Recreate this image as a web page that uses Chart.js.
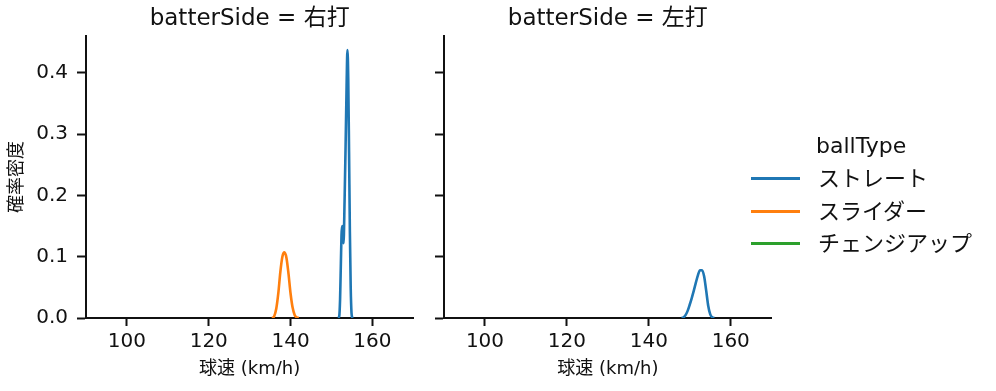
<!DOCTYPE html>
<html><head><meta charset="utf-8">
<script src="https://cdn.jsdelivr.net/npm/chart.js@4"></script>
<style>
body{margin:0;background:#fff;width:996px;height:391px;overflow:hidden;position:relative;font-family:"DejaVu Sans","Noto Sans CJK JP",sans-serif;}
canvas{position:absolute;top:0;}
#c1{left:0;}
#c2{left:425px;}
#legend{position:absolute;left:751px;top:0;width:245px;height:391px;color:#111;font-size:22px;}
#legend .ttl{position:absolute;left:65px;top:132px;line-height:28px;white-space:nowrap;}
#legend .it{position:absolute;left:0;height:32px;width:245px;}
#legend .sw{position:absolute;left:0;top:14px;width:49px;height:3px;}
#legend .lb{position:absolute;left:67px;top:0;line-height:32px;white-space:nowrap;}
</style></head><body>
<canvas id="c1" width="425" height="391"></canvas>
<canvas id="c2" width="355" height="391"></canvas>
<div id="legend"></div>
<script>
// ---- data ----
const ballTypes = ['ストレート', 'スライダー', 'チェンジアップ'];
const typeColors = ['#1f77b4', '#ff7f0e', '#2ca02c'];
const panels = ['右打', '左打'];
const xTicks = [100, 120, 140, 160];
const yTicks = [0.0, 0.1, 0.2, 0.3, 0.4];

// 右打 ストレート
const rStraightX = [151.6, 151.9, 152.1, 152.3, 152.45, 152.6, 152.75, 152.95, 153.2, 153.45, 153.7, 153.9, 154.1, 154.3, 154.5, 154.7, 154.9, 155.1];
const rStraightY = [0, 0.003, 0.03, 0.09, 0.135, 0.150, 0.140, 0.122, 0.19, 0.28, 0.38, 0.437, 0.39, 0.27, 0.14, 0.05, 0.008, 0];
// 右打 スライダー
const rSliderX = [135.5, 136.0, 136.5, 137.0, 137.5, 138.0, 138.5, 139.0, 139.5, 140.0, 140.5, 141.0, 141.5, 142.0];
const rSliderY = [0, 0.003, 0.015, 0.04, 0.075, 0.100, 0.107, 0.098, 0.072, 0.040, 0.017, 0.005, 0.001, 0];
// 左打 ストレート
const lStraightX = [148.0, 148.5, 149.0, 149.5, 150.0, 150.5, 151.0, 151.5, 152.0, 152.5, 153.0, 153.5, 154.0, 154.5, 155.0, 155.5, 156.0];
const lStraightY = [0, 0.001, 0.005, 0.012, 0.022, 0.033, 0.045, 0.058, 0.070, 0.078, 0.078, 0.068, 0.045, 0.020, 0.006, 0.001, 0];
// チェンジアップ: no visible density in either panel
const emptyX = [];
const emptyY = [];

const pts = (xs, ys) => xs.map((x, i) => ({x: x, y: ys[i]}));
const panelData = [
  [pts(rStraightX, rStraightY), pts(rSliderX, rSliderY), pts(emptyX, emptyY)],
  [pts(lStraightX, lStraightY), pts(emptyX, emptyY), pts(emptyX, emptyY)]
];

const FONT = '"DejaVu Sans", "Noto Sans CJK JP", sans-serif';
const INK = '#111';

function makeChart(id, pi, isLeft) {
  const ds = ballTypes.map((name, i) => ({
    label: name,
    data: panelData[pi][i],
    borderColor: typeColors[i],
    backgroundColor: typeColors[i],
    borderWidth: 2.6,
    pointRadius: 0,
    cubicInterpolationMode: 'monotone',
    fill: false
  }));
  return new Chart(document.getElementById(id), {
    type: 'line',
    data: {datasets: ds},
    options: {
      responsive: false,
      animation: false,
      layout: {padding: {top: 0, right: isLeft ? 11.7 : 8.3, left: 0, bottom: 0}},
      plugins: {
        legend: {display: false},
        tooltip: {enabled: false},
        title: {
          display: true,
          fullSize: false,
          text: 'batterSide = ' + panels[pi],
          color: INK,
          font: {family: FONT, size: 23, weight: 'normal', lineHeight: 1.2},
          padding: {top: 5, bottom: 3.4}
        }
      },
      scales: {
        x: {
          type: 'linear',
          min: 90, max: 170,
          afterBuildTicks: s => { s.ticks = xTicks.map(v => ({value: v})); },
          afterFit: s => { s.height = 73; },
          border: {display: true, color: INK, width: 2},
          grid: {display: true, drawOnChartArea: false, drawTicks: true, tickLength: 8, tickWidth: 2, tickColor: INK},
          ticks: {color: INK, font: {family: FONT, size: 20}, padding: 4, maxRotation: 0, callback: v => String(v)},
          title: {display: true, text: '球速 (km/h)', color: INK, font: {family: FONT, size: 18}, padding: {top: 2, bottom: 11}}
        },
        y: {
          min: 0, max: 0.46,
          afterBuildTicks: s => { s.ticks = yTicks.map(v => ({value: v})); },
          afterFit: s => { s.width = isLeft ? 86 : 19; },
          border: {display: true, color: INK, width: 2},
          grid: {display: true, drawOnChartArea: false, drawTicks: true, tickLength: 9, tickWidth: 2, tickColor: INK},
          ticks: {color: INK, font: {family: FONT, size: 20}, padding: 9, callback: v => isLeft ? v.toFixed(1) : ''},
          title: {display: isLeft, text: '確率密度', color: INK, font: {family: FONT, size: 18}, padding: {top: 7, bottom: 0}}
        }
      }
    }
  });
}
makeChart('c1', 0, true);
makeChart('c2', 1, false);

// legend
const lg = document.getElementById('legend');
const t = document.createElement('div'); t.className = 'ttl'; t.textContent = 'ballType'; lg.appendChild(t);
ballTypes.forEach((name, i) => {
  const it = document.createElement('div'); it.className = 'it'; it.style.top = (163 + i * 32.5) + 'px';
  const sw = document.createElement('div'); sw.className = 'sw'; sw.style.background = typeColors[i];
  const lb = document.createElement('div'); lb.className = 'lb'; lb.textContent = name;
  it.appendChild(sw); it.appendChild(lb); lg.appendChild(it);
});
</script>
</body></html>
